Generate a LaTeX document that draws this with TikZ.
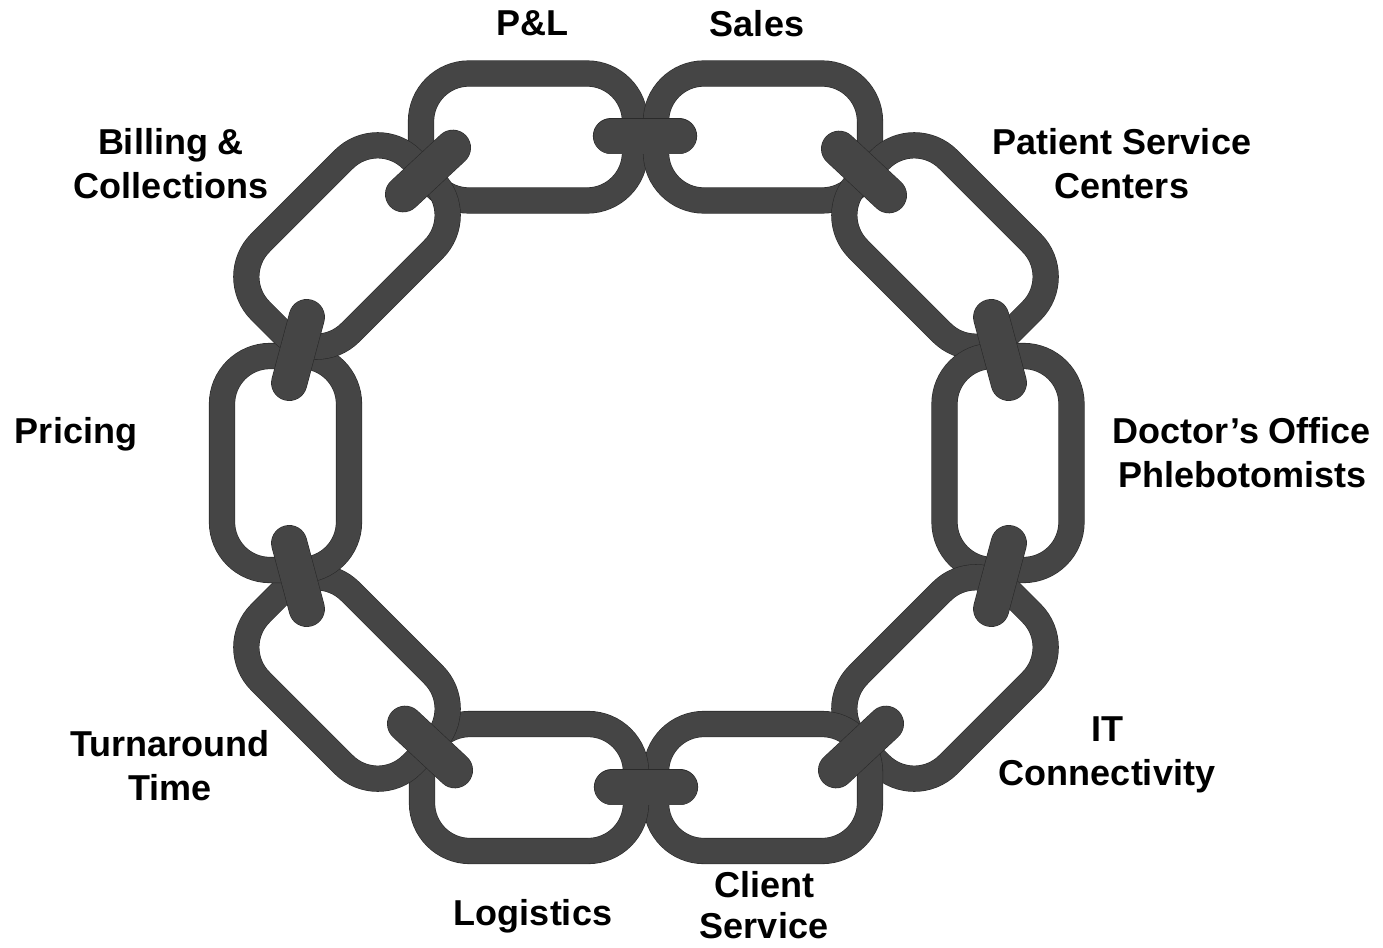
\documentclass[tikz,border=0pt]{standalone}
\usepackage{fontspec}
\setmainfont{Liberation Sans}
\definecolor{linkgray}{RGB}{69,69,69}
\definecolor{seamgray}{RGB}{42,42,42}
\tikzset{
  chainlink/.style={draw=seamgray, double=linkgray, line width=0.6bp,
    double distance=25bp, rounded corners=48bp},
  crossbar/.style={draw=seamgray, double=linkgray, line width=0.6bp,
    double distance=35bp, line cap=round},
  caption/.style={font=\bfseries\fontsize{36bp}{44bp}\selectfont,
    align=center, anchor=north, inner sep=0pt, text=black}
}
% one link of the chain: centre x, centre y, angle
\newcommand\chainpiece[3]{%
  \draw[chainlink, shift={(#1,#2)}, rotate=#3] (-107,-63.5) rectangle (107,63.5);}
% the short bar where two links interlock: centre x, centre y, angle
\newcommand\lockbar[3]{%
  \draw[crossbar, shift={(#1,#2)}, rotate=#3] (-34,0) -- (34,0);}
\begin{document}
\begin{tikzpicture}[x=1bp, y=-1bp]
  \useasboundingbox (0,0) rectangle (1383,947);

  % links, clockwise from the top left
  \chainpiece{528}{137}{0}
  \chainpiece{763}{137}{0}
  \chainpiece{945}{246}{-45}
  \chainpiece{1008}{463}{90}
  \chainpiece{945}{678}{45}
  \chainpiece{763}{787.5}{0}
  \chainpiece{529}{787.5}{0}
  \chainpiece{347}{678}{-45}
  \chainpiece{285.5}{463}{90}
  \chainpiece{347}{246}{45}

  % interlocking bars
  \lockbar{645}{136}{0}
  \lockbar{864}{172}{-43}
  \lockbar{1000}{350}{-75}
  \lockbar{1000}{576}{75}
  \lockbar{861}{747}{43}
  \lockbar{646}{787}{0}
  \lockbar{430}{747}{-43}
  \lockbar{298}{576}{-75}
  \lockbar{298}{350}{75}
  \lockbar{428}{171}{43}

  % captions
  \node[caption] (pl)    at (532.5,10)  {P\&L};
  \node[caption] (sales) at (757,10)    {Sales};
  \node[caption] (psc)   at (1122,128)  {Patient Service\\Centers};
  \node[caption] (doc)   at (1242,417)  {Doctor’s Office\\Phlebotomists};
  \node[caption] (it)    at (1107,717)  {IT\\Connectivity};
  \node[caption, font=\bfseries\fontsize{36bp}{41bp}\selectfont]
                 (cs)    at (764,871)   {Client\\Service};
  \node[caption] (log)   at (533,899)   {Logistics};
  \node[caption] (tat)   at (170,730)   {Turnaround\\Time};
  \node[caption] (price) at (76,417)    {Pricing};
  \node[caption] (bill)  at (171,128)   {Billing \&\\Collections};
\end{tikzpicture}
\end{document}
